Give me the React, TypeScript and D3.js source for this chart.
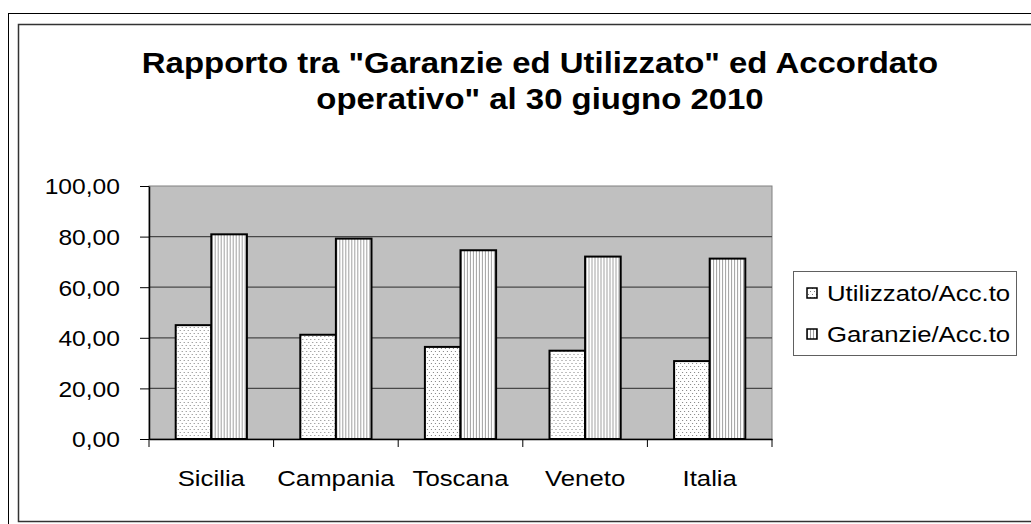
import React, { useRef, useEffect } from 'react';
import * as d3 from 'd3';

const categories = ['Sicilia', 'Campania', 'Toscana', 'Veneto', 'Italia'];
const seriesNames = ['Utilizzato/Acc.to', 'Garanzie/Acc.to'];
const utilizzato = [45.0, 41.2, 36.4, 34.9, 30.8];
const garanzie = [80.9, 79.2, 74.6, 72.1, 71.3];
const yTicks = [0, 20, 40, 60, 80, 100];
const titleLines = ['Rapporto tra "Garanzie ed Utilizzato" ed Accordato', 'operativo" al 30 giugno 2010'];

const W = 1031;
const H = 524;
const SX = 1.12; // il grafico originale è stirato in orizzontale
const FONT = "Arial, 'Liberation Sans', sans-serif";

const App = () => {
  const svgRef = useRef(null);

  useEffect(() => {
    const svg = d3.select(svgRef.current);
    svg.selectAll('*').remove();

    const plot = { left: 149, right: 772, top: 186, bottom: 439 };

    // pattern
    const defs = svg.append('defs');
    const dots = defs.append('pattern')
      .attr('id', 'pat-dots')
      .attr('patternUnits', 'userSpaceOnUse')
      .attr('width', 4)
      .attr('height', 6);
    dots.append('rect').attr('width', 4).attr('height', 6).attr('fill', '#fff');
    dots.append('rect').attr('x', 0).attr('y', 0).attr('width', 1).attr('height', 1).attr('fill', '#808080');
    dots.append('rect').attr('x', 2).attr('y', 3).attr('width', 1).attr('height', 1).attr('fill', '#808080');

    const stripes = defs.append('pattern')
      .attr('id', 'pat-stripes')
      .attr('patternUnits', 'userSpaceOnUse')
      .attr('width', 3)
      .attr('height', 4);
    stripes.append('rect').attr('width', 3).attr('height', 4).attr('fill', '#fff');
    stripes.append('rect').attr('x', 0).attr('width', 1).attr('height', 4).attr('fill', '#a0a0a0');

    const fills = ['url(#pat-dots)', 'url(#pat-stripes)'];

    // cornice
    svg.append('rect')
      .attr('x', 8.5).attr('y', 13.5)
      .attr('width', W + 20).attr('height', H + 20)
      .attr('fill', '#fff')
      .attr('stroke', '#000')
      .attr('stroke-width', 1);
    svg.append('rect')
      .attr('x', 18.5).attr('y', 24.5)
      .attr('width', W).attr('height', 497)
      .attr('fill', '#fff')
      .attr('stroke', '#333')
      .attr('stroke-width', 1.5);

    // testo stirato
    const stretchedText = (parent, x, y, txt, size, anchor, weight = 'normal') => {
      parent.append('text')
        .attr('transform', `translate(${x},${y}) scale(${SX},1)`)
        .attr('text-anchor', anchor)
        .style('font-family', FONT)
        .style('font-size', `${size}px`)
        .style('font-weight', weight)
        .style('fill', '#000')
        .text(txt);
    };

    // titolo
    stretchedText(svg, 540, 73, titleLines[0], 29.4, 'middle', 'bold');
    stretchedText(svg, 540, 109, titleLines[1], 29.4, 'middle', 'bold');

    // scale
    const x0 = d3.scaleBand()
      .domain(categories)
      .range([plot.left, plot.right])
      .paddingInner(0)
      .paddingOuter(0);

    const bw = x0.bandwidth() / 3.5; // gap width 150%
    const x1 = d3.scaleBand()
      .domain(seriesNames)
      .range([0, bw * 2]);

    const y = d3.scaleLinear()
      .domain([0, 100])
      .range([plot.bottom, plot.top]);

    // area del grafico
    svg.append('rect')
      .attr('x', plot.left).attr('y', plot.top)
      .attr('width', plot.right - plot.left)
      .attr('height', plot.bottom - plot.top)
      .attr('fill', '#c0c0c0')
      .attr('stroke', '#808080')
      .attr('stroke-width', 1);

    // griglia
    svg.selectAll('.grid-line')
      .data(yTicks.filter(d => d > 0 && d < 100))
      .enter()
      .append('line')
      .attr('class', 'grid-line')
      .attr('x1', plot.left)
      .attr('x2', plot.right)
      .attr('y1', d => y(d))
      .attr('y2', d => y(d))
      .attr('stroke', '#484848')
      .attr('stroke-width', 1.3);

    // barre
    const groups = svg.selectAll('.cat')
      .data(categories)
      .enter()
      .append('g')
      .attr('class', 'cat')
      .attr('transform', d => `translate(${x0(d) + (x0.bandwidth() - bw * 2) / 2},0)`);

    groups.selectAll('rect')
      .data((d, i) => [utilizzato[i], garanzie[i]].map((v, s) => ({ s, v })))
      .enter()
      .append('rect')
      .attr('x', d => x1(seriesNames[d.s]))
      .attr('y', d => y(d.v))
      .attr('width', x1.bandwidth())
      .attr('height', d => y(0) - y(d.v))
      .attr('fill', d => fills[d.s])
      .attr('stroke', '#000')
      .attr('stroke-width', 2);

    // asse Y
    const yAxis = d3.axisLeft(y)
      .tickValues(yTicks)
      .tickSize(9)
      .tickSizeOuter(0)
      .tickFormat(d => d3.format('.2f')(d).replace('.', ','));

    const gy = svg.append('g')
      .attr('transform', `translate(${plot.left},0)`)
      .call(yAxis);
    gy.select('.domain').attr('stroke', '#000').attr('stroke-width', 1.5);
    gy.selectAll('.tick line').attr('stroke', '#000');
    gy.selectAll('.tick text')
      .attr('x', -29 / SX)
      .attr('dy', '0.36em')
      .attr('transform', `scale(${SX},1)`)
      .style('font-family', FONT)
      .style('font-size', '22px')
      .style('fill', '#000');

    // asse X
    const xAxis = d3.axisBottom(x0).tickSize(0).tickSizeOuter(0);
    const gx = svg.append('g')
      .attr('transform', `translate(0,${plot.bottom})`)
      .call(xAxis);
    gx.select('.domain').attr('stroke', '#000').attr('stroke-width', 1.5);
    gx.selectAll('.tick text')
      .attr('y', 47)
      .attr('dy', 0)
      .attr('transform', `scale(${SX},1)`)
      .style('font-family', FONT)
      .style('font-size', '23px')
      .style('fill', '#000');

    const bounds = categories.map(c => x0(c)).concat([plot.right]);
    gx.selectAll('.cat-tick')
      .data(bounds)
      .enter()
      .append('line')
      .attr('class', 'cat-tick')
      .attr('x1', d => d)
      .attr('x2', d => d)
      .attr('y1', 0)
      .attr('y2', 8)
      .attr('stroke', '#000');

    // legenda
    const legend = svg.append('g').attr('class', 'legend');
    legend.append('rect')
      .attr('x', 793.5).attr('y', 271.5)
      .attr('width', 223).attr('height', 84)
      .attr('fill', '#fff')
      .attr('stroke', '#606060')
      .attr('stroke-width', 1);

    const rows = [293, 334];
    seriesNames.forEach((name, i) => {
      legend.append('rect')
        .attr('x', 807).attr('y', rows[i] - 5)
        .attr('width', 10).attr('height', 10)
        .attr('fill', fills[i])
        .attr('stroke', '#000')
        .attr('stroke-width', 1.5);
      stretchedText(legend, 827, rows[i] + 7.8, name, 23, 'start');
    });
  }, []);

  return (
    <svg
      ref={svgRef}
      width={W}
      height={H}
      style={{ position: 'absolute', left: 0, top: 0, display: 'block', background: '#fff' }}
    />
  );
};

export default App;
